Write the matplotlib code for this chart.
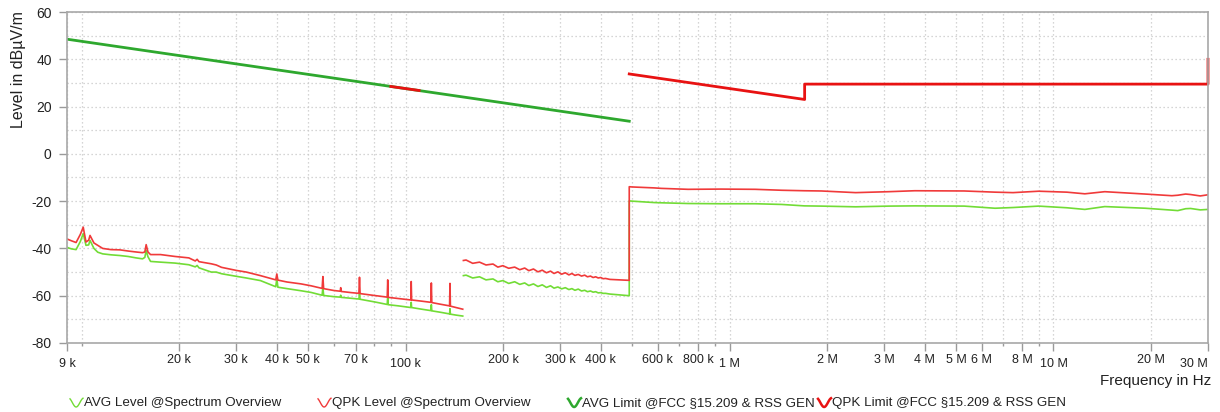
import numpy as np
import matplotlib
matplotlib.use('Agg')
import matplotlib.pyplot as plt
from matplotlib.lines import Line2D

plt.rcParams['font.family'] = ['Liberation Sans', 'DejaVu Sans']
plt.rcParams['axes.unicode_minus'] = False

# --- measured spectrum, 9 kHz .. 150 kHz (kHz, dBuV/m)
seg1_freq = [9.0, 9.3, 9.6, 9.9, 10.1, 10.3, 10.5, 10.6, 10.9, 11.2, 11.6, 12.3, 13.1,
             13.9, 14.7, 15.4, 15.65, 15.8, 16.0, 16.3, 17.5, 19.4, 21.4, 22.4, 22.7,
             23.0, 25.1, 26.0, 27.0, 30.0, 32.2, 35.6, 39.7, 40.0, 40.3, 43.0, 47.5,
             51.0, 55.2, 55.5, 55.8, 60.0, 62.8, 63.0, 63.2, 68.0, 71.7, 72.0, 72.3,
             80.0, 87.7, 88.0, 88.3, 95.0, 103.7, 104.0, 104.3, 112.0, 119.6, 120.0,
             120.4, 128.0, 136.6, 137.0, 137.4, 143.0, 150.0]
seg1_qpk = [-36.0, -36.8, -37.5, -34.0, -31.0, -37.3, -36.5, -34.5, -37.7, -38.7, -40.0,
            -40.5, -40.6, -41.1, -41.5, -41.8, -41.5, -38.4, -41.5, -42.6, -42.6, -43.4,
            -44.0, -45.3, -44.6, -45.6, -46.5, -47.0, -48.0, -49.3, -50.0, -51.5, -53.3,
            -50.8, -53.4, -54.2, -55.0, -55.8, -56.9, -51.9, -57.0, -57.8, -58.1, -56.6,
            -58.2, -58.7, -59.0, -52.2, -59.1, -59.9, -60.6, -53.3, -60.7, -61.2, -61.8,
            -54.0, -61.8, -62.3, -62.8, -54.6, -62.9, -63.6, -64.3, -54.8, -64.4, -65.0,
            -65.7]
seg1_avg = [-39.6, -40.2, -40.5, -37.0, -33.7, -38.7, -38.5, -36.6, -40.0, -41.6, -42.3,
            -42.7, -43.0, -43.4, -44.0, -44.4, -43.8, -40.8, -43.5, -45.5, -45.8, -46.2,
            -46.9, -47.8, -47.2, -48.2, -50.0, -50.0, -50.7, -51.8, -52.5, -53.6, -56.2,
            -52.8, -56.4, -57.0, -57.9, -58.6, -59.8, -56.4, -59.9, -60.4, -60.6, -59.8,
            -60.7, -61.1, -61.4, -59.3, -61.5, -62.6, -63.7, -60.0, -63.8, -64.3, -65.0,
            -62.8, -65.0, -65.7, -66.3, -63.8, -66.4, -67.0, -67.7, -65.5, -67.8, -68.2,
            -68.6]

# --- 150 kHz .. 490 kHz
seg2_freq = [150.7, 153.6, 161, 169, 177, 186, 192.5, 199.5, 208, 217, 225, 233, 240, 248,
             256, 264, 272, 280, 287, 295, 303, 311, 319, 326, 333, 341, 349, 357, 364,
             372, 379, 386, 393, 400, 407, 414, 427, 490]
seg2_qpk = [-45.1, -44.9, -46.3, -45.8, -47.0, -46.6, -47.9, -47.3, -48.4, -47.9, -49.0,
            -48.3, -49.4, -48.7, -49.9, -49.2, -50.3, -49.6, -50.6, -49.9, -50.9, -50.3,
            -51.2, -50.6, -51.4, -51.0, -51.7, -51.3, -52.0, -51.7, -52.3, -52.0, -52.5,
            -52.3, -52.8, -52.7, -53.1, -53.5]
seg2_avg = [-51.5, -51.3, -52.5, -52.0, -53.3, -52.9, -54.1, -53.6, -54.8, -54.1, -55.2,
            -54.6, -55.7, -55.0, -56.1, -55.4, -56.5, -55.8, -56.8, -56.3, -57.1, -56.6,
            -57.4, -57.0, -57.7, -57.2, -58.0, -57.7, -58.3, -58.0, -58.5, -58.3, -58.8,
            -58.7, -59.0, -59.0, -59.3, -60.0]

# --- 490 kHz .. 30 MHz
seg3_freq = [490, 500, 585, 615, 744, 940, 1200, 1450, 1700, 1920, 2450, 3100, 3730, 5300,
             6600, 7500, 9000, 11000, 12500, 14400, 19200, 23200, 24200, 25600, 26500,
             28400, 30000]
seg3_qpk = [-13.9, -14.0, -14.4, -14.6, -15.0, -14.9, -15.0, -15.4, -15.6, -15.7, -16.4,
            -16.0, -15.6, -15.7, -16.2, -16.4, -15.8, -16.2, -16.9, -16.0, -17.0, -17.7,
            -17.5, -17.0, -17.2, -17.8, -17.3]
seg3_avg = [-19.9, -20.0, -20.6, -20.7, -21.0, -21.1, -21.1, -21.4, -22.0, -22.1, -22.4,
            -22.1, -22.0, -22.1, -23.0, -22.7, -22.1, -22.8, -23.5, -22.3, -23.0, -23.8,
            -24.0, -23.2, -23.1, -23.7, -23.5]

# --- limit lines (FCC 15.209 & RSS GEN)
avg_lim_freq = [9, 490]
avg_lim_lvl = [48.5, 13.8]
qpk_lim_a_freq = [90, 110]
qpk_lim_a_lvl = [28.5, 26.8]
qpk_lim_b_freq = [490, 1705, 1705, 30000, 30000]
qpk_lim_b_lvl = [33.8, 23.0, 29.5, 29.5, 40.0]

# axis ticks
major_ticks = [9e3, 20e3, 30e3, 40e3, 50e3, 70e3, 100e3, 200e3, 300e3, 400e3, 600e3,
               800e3, 1e6, 2e6, 3e6, 4e6, 5e6, 6e6, 8e6, 10e6, 20e6, 30e6]
major_labels = ['9 k', '20 k', '30 k', '40 k', '50 k', '70 k', '100 k', '200 k', '300 k',
                '400 k', '600 k', '800 k', '1 M', '2 M', '3 M', '4 M', '5 M', '6 M',
                '8 M', '10 M', '20 M', '30 M']
low_labels = ['9 k', '100 k', '1 M', '10 M', '30 M']

c_avg = '#72dc36'
c_qpk = '#f03a3a'
c_avg_lim = '#2ea82e'
c_qpk_lim = '#e81212'

W, H = 1220, 412
fig = plt.figure(figsize=(W / 100, H / 100), dpi=100)
ax = fig.add_axes([67 / W, 1 - 343 / H, 1141 / W, 331 / H])

k = 1e3
ax.plot(np.array(seg1_freq) * k, seg1_avg, color=c_avg, lw=1.2)
ax.plot(np.array(seg2_freq + seg3_freq) * k, seg2_avg + seg3_avg, color=c_avg, lw=1.2)
ax.plot(np.array(seg1_freq) * k, seg1_qpk, color=c_qpk, lw=1.2)
ax.plot(np.array(seg2_freq + seg3_freq) * k, seg2_qpk + seg3_qpk, color=c_qpk, lw=1.2)

ax.plot(np.array(avg_lim_freq) * k, avg_lim_lvl, color=c_avg_lim, lw=2.0)
ax.plot(np.array(qpk_lim_a_freq) * k, qpk_lim_a_lvl, color=c_qpk_lim, lw=2.0)
ax.plot(np.array(qpk_lim_b_freq) * k, qpk_lim_b_lvl, color=c_qpk_lim, lw=2.0,
        clip_on=False)

ax.set_xscale('log')
ax.set_xlim(9e3, 30e6)
ax.set_ylim(-80, 60)

# ticks & grid
minor = []
for dec in [1e3, 1e4, 1e5, 1e6, 1e7]:
    for m in range(1, 10):
        f = m * dec
        if 9e3 <= f <= 30e6 and f not in major_ticks:
            minor.append(f)
ax.set_xticks(major_ticks)
ax.set_xticklabels(major_labels)
ax.set_xticks(minor, minor=True)
ax.set_xticklabels([], minor=True)
ax.set_yticks(range(-80, 61, 20))
ax.set_yticks(range(-70, 60, 20), minor=True)

grid_kw = dict(color='#c8c8c8', ls=(0, (1, 2.2)), lw=0.9)
ax.grid(True, which='both', axis='both', **grid_kw)
ax.set_axisbelow(True)

ax.tick_params(axis='y', which='major', direction='out', length=6, width=1,
               color='#9a9a9a', labelsize=10, labelcolor='#222222', pad=5)
ax.tick_params(axis='x', which='major', direction='out', length=6, width=1,
               color='#9a9a9a', labelsize=9, labelcolor='#222222', pad=2)
ax.tick_params(axis='x', which='minor', direction='out', length=2.5, width=1,
               color='#9a9a9a')
ax.tick_params(axis='y', which='minor', length=0)
for t in ax.xaxis.get_major_ticks():
    if t.label1.get_text() in low_labels:
        t.set_pad(5)
ax.get_xticklabels()[-1].set_horizontalalignment('right')

for s in ax.spines.values():
    s.set_color('#a8a8a8')
    s.set_linewidth(1.2)

ax.set_ylabel('Level in dBµV/m', fontsize=11.5, color='#222222')
ax.yaxis.set_label_coords(-0.036, 0.825)
ax.text(1.003, -0.115, 'Frequency in Hz', transform=ax.transAxes, ha='right',
        va='center', fontsize=11, color='#222222')

# legend row
legend_items = [(70, 'AVG Level @Spectrum Overview', c_avg, 1.0),
                (318, 'QPK Level @Spectrum Overview', c_qpk, 1.0),
                (568, 'AVG Limit @FCC §15.209 & RSS GEN', c_avg_lim, 1.8),
                (818, 'QPK Limit @FCC §15.209 & RSS GEN', c_qpk_lim, 1.8)]
yc = 403
for x0, label, col, lw in legend_items:
    u = np.linspace(0, 1, 30)
    xs = x0 + 13 * u
    ys = yc - 0.5 - 4.5 * np.cos(2 * np.pi * (0.85 * u + 0.1))
    fig.add_artist(Line2D(xs / W, 1 - ys / H, transform=fig.transFigure,
                          color=col, lw=lw))
    fig.text((x0 + 14) / W, 1 - yc / H, label, ha='left', va='center',
             fontsize=9.6, color='#222222')

fig.savefig('out.png', dpi=100)
